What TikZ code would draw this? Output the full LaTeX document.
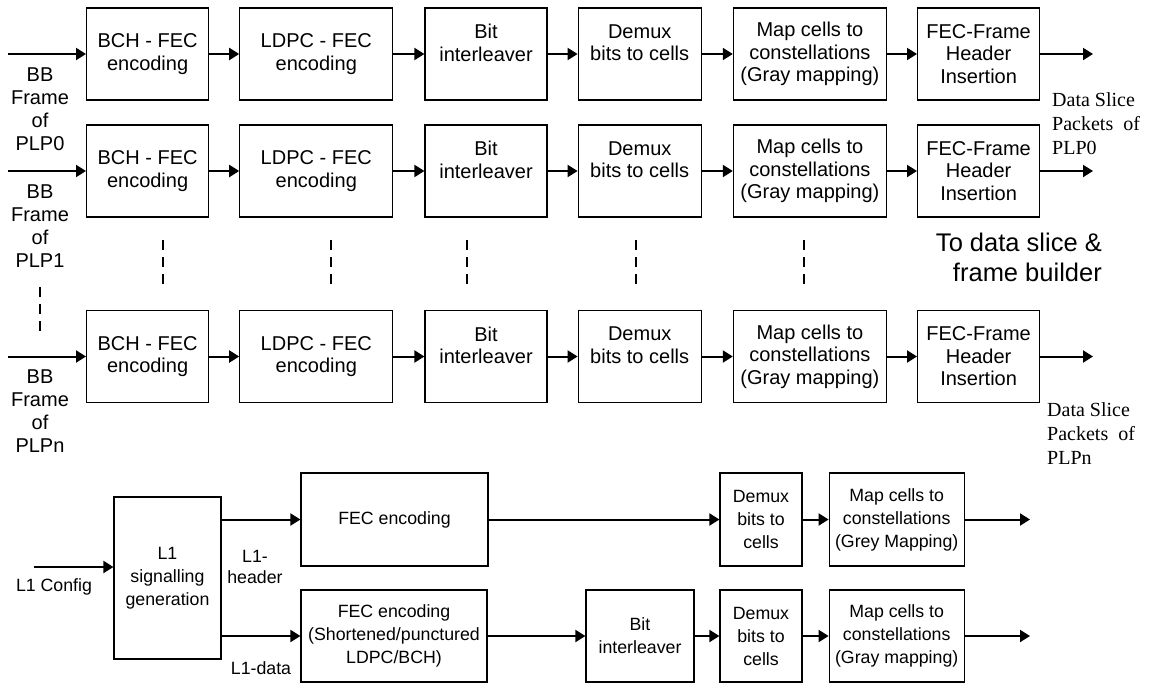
\documentclass[tikz,border=0pt]{standalone}
\usepackage{fontspec}
\setmainfont{Liberation Sans}
\newfontfamily\timesfont{Liberation Serif}
\usetikzlibrary{positioning, arrows.meta}

\begin{document}
\begin{tikzpicture}[
        x=1pt, y=-1pt,
        node distance=30pt,
        blk/.style={draw, line width=1.2pt, minimum height=92pt, inner sep=0pt, align=center, font=\fontsize{20}{22.5}\selectfont},
        lblk/.style={draw, line width=1.2pt, minimum height=93pt, inner sep=0pt, align=center, font=\fontsize{17.75}{23}\selectfont},
        txt/.style={inner sep=0pt, align=center, font=\fontsize{20}{23}\selectfont},
        ltxt/.style={inner sep=0pt, align=center, font=\fontsize{17.75}{20.5}\selectfont},
        slice/.style={inner sep=0pt, align=left, font=\timesfont\fontsize{20}{24}\selectfont},
        arr/.style={-{Triangle[length=10pt, width=12pt]}, line width=2pt},
        dots/.style={dash pattern=on 10pt off 7pt, line width=1.2pt},
    ]
    \useasboundingbox (0,0) rectangle (1153,683);

    % PLP chains
    \foreach \r/\y in {0/54, 1/171, n/356.5} {
        \node[blk, minimum width=122pt, anchor=west] (bch\r) at (86,\y) {BCH - FEC\\encoding};
        \node[blk, minimum width=153pt, right=of bch\r] (ldpc\r) {LDPC - FEC\\encoding};
        \node[blk, minimum width=122pt, right=31pt of ldpc\r] (bil\r) {Bit\\interleaver\\~};
        \node[blk, minimum width=123pt, right=of bil\r] (dmx\r) {Demux\\bits to cells\\~};
        \node[blk, minimum width=153pt, right=31pt of dmx\r] (map\r) {Map cells to\\constellations\\(Gray mapping)};
        \node[blk, minimum width=122pt, right=of map\r] (hdr\r) {FEC-Frame\\Header\\Insertion};
        \coordinate (in\r) at (8,\y);
        \coordinate (out\r) at (1093,\y);
        \node[txt] (bb\r) at (40,\y+55) {BB\\Frame\\of\\PLP\r};
        \draw[arr] (in\r) -- (bch\r);
        \draw[arr] (bch\r) -- (ldpc\r);
        \draw[arr] (ldpc\r) -- (bil\r);
        \draw[arr] (bil\r) -- (dmx\r);
        \draw[arr] (dmx\r) -- (map\r);
        \draw[arr] (map\r) -- (hdr\r);
        \draw[arr] (hdr\r) -- (out\r);
    }

    % more PLPs
    \draw[dots] (40,287) -- (40,333);
    \foreach \x in {163, 331, 467, 636, 804}
        \draw[dots] (\x,240) -- (\x,288);

    \node[slice, anchor=north west] (ds0) at (1052,92) {Data Slice\\Packets~~of\\PLP0};
    \node[slice, anchor=north west] (dsn) at (1047,402) {Data Slice\\Packets~~of\\PLPn};
    \node[txt, align=right, font=\fontsize{25.5}{30}\selectfont, anchor=north east] (dest) at (1102,233) {To data slice \&\\frame builder};

    % L1 signalling
    \node[lblk, minimum width=107pt, minimum height=162pt] (l1gen) at (167.5,578) {L1\\signalling\\generation};
    \coordinate (cfg) at (34,567);
    \node[ltxt] (cfgtxt) at (54,587) {L1 Config};
    \draw[arr] (cfg) -- (cfg -| l1gen.west);

    \node[lblk, minimum width=187pt] (fech) at (394.5,519.5) {FEC encoding};
    \node[lblk, minimum width=82pt] (dmxh) at (761,519.5) {Demux\\bits to\\cells};
    \node[lblk, minimum width=135pt, right=26pt of dmxh] (maph) {Map cells to\\constellations\\(Grey Mapping)};
    \node[lblk, minimum width=186pt, minimum height=92pt] (fecd) at (394,636) {FEC encoding\\(Shortened/punctured\\LDPC/BCH)};
    \node[lblk, minimum width=108pt, minimum height=92pt] (bild) at (640,636) {Bit\\interleaver};
    \node[lblk, minimum width=82pt, minimum height=92pt] (dmxd) at (761,636) {Demux\\bits to\\cells};
    \node[lblk, minimum width=135pt, minimum height=92pt, right=26pt of dmxd] (mapd) {Map cells to\\constellations\\(Gray mapping)};
    \coordinate (outh) at (1030,519.5);
    \coordinate (outd) at (1030,636);

    \draw[arr] (l1gen.east |- fech) -- (fech);
    \draw[arr] (fech) -- (dmxh);
    \draw[arr] (dmxh) -- (maph);
    \draw[arr] (maph) -- (outh);
    \draw[arr] (l1gen.east |- fecd) -- (fecd);
    \draw[arr] (fecd) -- (bild);
    \draw[arr] (bild) -- (dmxd);
    \draw[arr] (dmxd) -- (mapd);
    \draw[arr] (mapd) -- (outd);

    \node[ltxt] (hdrtxt) at (255,567) {L1-\\header};
    \node[ltxt] (datatxt) at (261,668) {L1-data};
\end{tikzpicture}
\end{document}
